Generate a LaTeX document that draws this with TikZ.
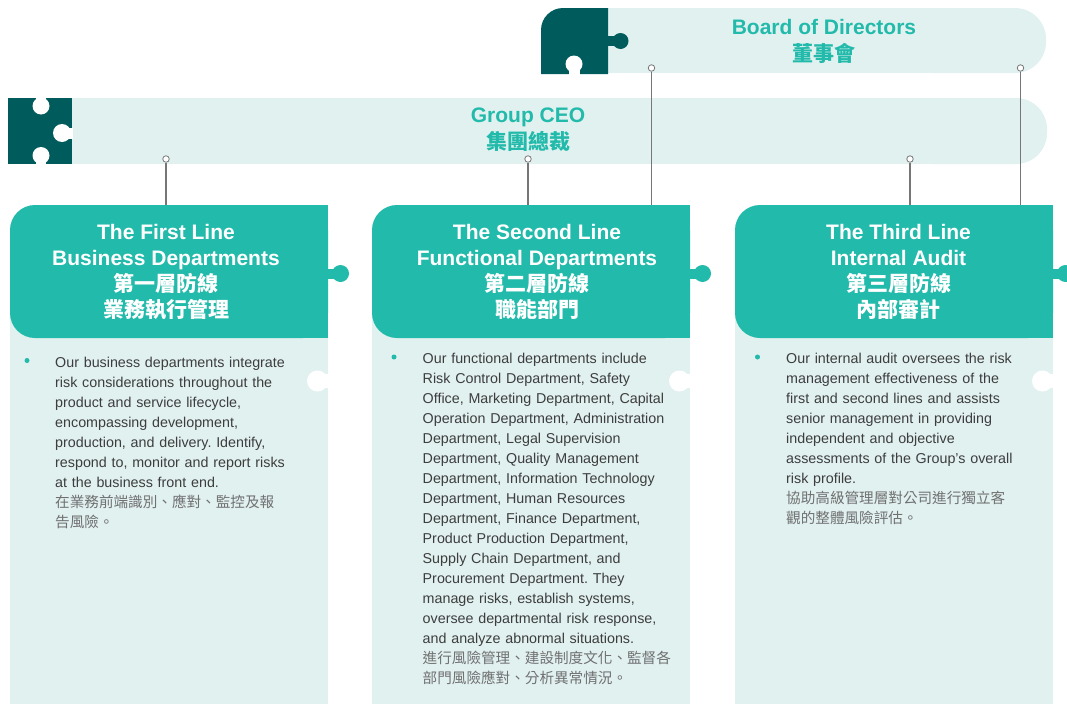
\documentclass[tikz,border=0pt]{standalone}
\usepackage{fontspec}
\setmainfont{Liberation Sans}
\newfontfamily\cjk{Noto Sans CJK TC}
\definecolor{darkpz}{HTML}{005B5C}
\definecolor{tealpz}{HTML}{22BAAA}
\definecolor{lightpz}{HTML}{E1F1F0}
\definecolor{txtgray}{HTML}{3D3D3D}
\definecolor{cngray}{HTML}{707070}
\definecolor{linegray}{HTML}{767676}
\newcommand{\zh}[1]{{\cjk\fontsize{14.6}{20}\selectfont\color{cngray}#1}}
\newcommand{\zhb}[1]{{\cjk\bfseries #1}}
\frenchspacing
\begin{document}
\begin{tikzpicture}[x=1pt,y=-1pt,
  hdr/.style={text=white,font=\fontsize{21}{26}\selectfont\bfseries,align=center,anchor=north,inner sep=0pt},
  ttl/.style={text=tealpz,font=\fontsize{21}{27}\selectfont\bfseries,align=center,anchor=north,inner sep=0pt},
  body/.style={text=txtgray,font=\fontsize{14.3}{20}\selectfont\frenchspacing,text width=290pt,align=left,anchor=north west,inner sep=0pt},
  dot/.style={circle,draw=linegray,fill=white,line width=0.8pt,inner sep=0pt,minimum size=6.5pt},
  bul/.style={circle,fill=tealpz,inner sep=0pt,minimum size=5pt},
  conn/.style={draw=linegray,line width=1.1pt}]
\useasboundingbox (0,0) rectangle (1067,704);
\clip (0,0) rectangle (1067,704);
% ---------- Board of Directors bar ----------
\fill[lightpz,rounded corners=31pt] (900,8) rectangle (1046,73);
\fill[lightpz] (600,8) rectangle (960,73);
\fill[darkpz] (541,74) -- (541,30)
   .. controls (541,17.85) and (550.85,8) .. (563,8)
   -- (608,8) -- (608,74) -- cycle;
\fill[darkpz] (606,36) rectangle (614,46);
\fill[darkpz] (620.5,41) circle[radius=8pt];
\fill[white] (574,64) circle[radius=8.5pt];
\fill[white] (568.5,64) rectangle (579.5,75);
% ---------- Group CEO bar ----------
\fill[lightpz,rounded corners=31pt] (900,98) rectangle (1047,164);
\fill[lightpz] (70,98) rectangle (960,164);
\fill[darkpz] (8,98) rectangle (72,164);
\fill[white] (41,106) circle[radius=8.5pt];
\fill[white] (36,97) rectangle (46,106);
\fill[white] (41,155.5) circle[radius=8.5pt];
\fill[white] (36,155) rectangle (46,165);
\fill[white] (62,133) circle[radius=9pt];
\fill[white] (62,127.5) rectangle (72.5,138.5);
% ---------- Columns ----------
\foreach \L/\R in {10/328, 372/690, 735/1053}{
  \fill[lightpz] (\L,300) rectangle (\R,704);
  \fill[white] ({\R-10.5},381) circle[radius=10.5pt];
  \fill[white] ({\R-10.5},374) rectangle ({\R+1},388);
  \fill[tealpz,rounded corners=25pt] (\L,205) rectangle (\R,338);
  \fill[tealpz] ({\L+100},205) rectangle (\R,338);
  \fill[tealpz] ({\R-2},268.5) rectangle ({\R+7},278.5);
  \fill[tealpz] ({\R+12.5},273.5) circle[radius=8.5pt];
}
% ---------- Connectors ----------
\node[dot] (ceo1) at (166,159) {};
\node[dot] (ceo2) at (528,159) {};
\node[dot] (ceo3) at (910,159) {};
\node[dot] (bod1) at (651.5,68) {};
\node[dot] (bod2) at (1020.5,68) {};
\coordinate (top1) at (166,205);
\coordinate (top2) at (528,205);
\coordinate (top3) at (910,205);
\coordinate (top2b) at (651.5,205);
\coordinate (top3b) at (1020.5,205);
\draw[conn] (ceo1) -- (top1);
\draw[conn] (ceo2) -- (top2);
\draw[conn] (ceo3) -- (top3);
\draw[conn] (bod1) -- (top2b);
\draw[conn] (bod2) -- (top3b);
% ---------- Titles ----------
\node[ttl] (bodt) at (824,19.4) {Board of Directors\\\zhb{董事會}};
\node[ttl] (ceot) at (528,107.4) {Group CEO\\\zhb{集團總裁}};
\node[hdr] (h1) at (166,223.8) {The First Line\\Business Departments\\\zhb{第一層防線}\\\zhb{業務執行管理}};
\node[hdr] (h2) at (537,223.8) {The Second Line\\Functional Departments\\\zhb{第二層防線}\\\zhb{職能部門}};
\node[hdr] (h3) at (898.5,223.8) {The Third Line\\Internal Audit\\\zhb{第三層防線}\\\zhb{內部審計}};
% ---------- Bodies ----------
\node[bul] (b1) at (27,360.5) {};
\node[bul] (b2) at (394,357) {};
\node[bul] (b3) at (757.5,357) {};
\node[body] (t1) at (55,356.6) {Our business departments integrate\\
risk considerations throughout the\\
product and service lifecycle,\\
encompassing development,\\
production, and delivery. Identify,\\
respond to, monitor and report risks\\
at the business front end.\\
\zh{在業務前端識別、應對、監控及報}\\
\zh{告風險。}};
\node[body] (t2) at (422.5,352.6) {Our functional departments include\\
Risk Control Department, Safety\\
Office, Marketing Department, Capital\\
Operation Department, Administration\\
Department, Legal Supervision\\
Department, Quality Management\\
Department, Information Technology\\
Department, Human Resources\\
Department, Finance Department,\\
Product Production Department,\\
Supply Chain Department, and\\
Procurement Department. They\\
manage risks, establish systems,\\
oversee departmental risk response,\\
and analyze abnormal situations.\\
\zh{進行風險管理、建設制度文化、監督各}\\
\zh{部門風險應對、分析異常情況。}};
\node[body] (t3) at (786,352.6) {Our internal audit oversees the risk\\
management effectiveness of the\\
first and second lines and assists\\
senior management in providing\\
independent and objective\\
assessments of the Group’s overall\\
risk profile.\\
\zh{協助高級管理層對公司進行獨立客}\\
\zh{觀的整體風險評估。}};
\end{tikzpicture}
\end{document}
